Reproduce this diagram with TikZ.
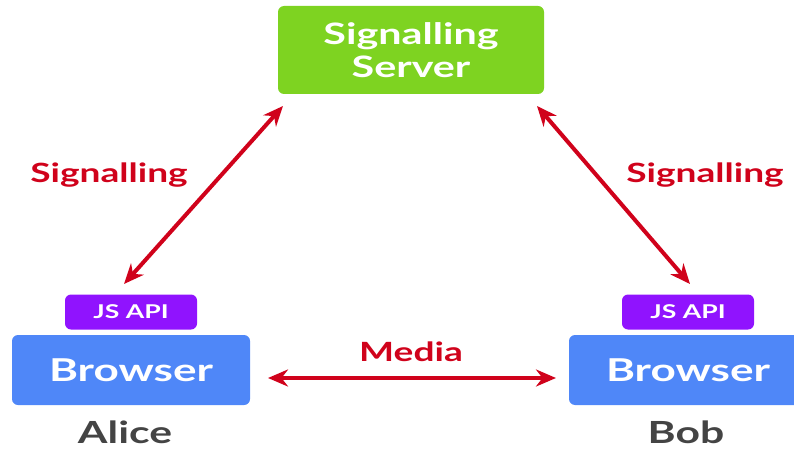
\documentclass[tikz,border=0pt]{standalone}
\usepackage{fontspec}
\setmainfont{Lato}[FakeStretch=1.4]
\usetikzlibrary{arrows.meta}
\definecolor{srvgreen}{HTML}{7ED321}
\definecolor{apipurple}{HTML}{9013FE}
\definecolor{brblue}{HTML}{4F87F8}
\definecolor{sigred}{HTML}{D0021B}
\definecolor{namegray}{HTML}{444444}
\tikzset{
  box/.style={rounded corners=6pt, inner sep=0pt, text=white, font=\bfseries},
  server/.style={box, fill=srvgreen, minimum width=266pt, minimum height=88pt, align=center, font=\bfseries\fontsize{29.5}{35}\selectfont},
  api/.style={box, fill=apipurple, minimum width=132pt, minimum height=35pt, font=\bfseries\fontsize{19}{22}\selectfont},
  browser/.style={box, fill=brblue, minimum width=238pt, minimum height=70pt, font=\bfseries\fontsize{31.5}{35}\selectfont},
  person/.style={text=namegray, inner sep=1pt, font=\bfseries\fontsize{30.5}{34}\selectfont},
  siglabel/.style={text=sigred, font=\bfseries\fontsize{26.5}{30}\selectfont},
  link/.style={draw=sigred, line width=4pt, {Stealth[length=20pt,width=17pt]}-{Stealth[length=20pt,width=17pt]}}
}
\begin{document}
\begin{tikzpicture}[x=1pt,y=1pt]
\useasboundingbox (0,0) rectangle (794,-449);
\node[server] (srv) at (411,-50) {Signalling\\[-2pt]Server};
\node[api] (apiA) at (131,-312) {JS API};
\node[browser] (brA) at (131,-370) {Browser};
\node[person] (alice) at (125,-432) {Alice};
\node[api] (apiB) at (688,-312) {JS API};
\node[browser] (brB) at (688,-370) {Browser};
\node[person] (bob) at (686,-432) {Bob};
\coordinate (s1) at (283,-106);
\coordinate (a1) at (124,-284);
\coordinate (s2) at (537,-106);
\coordinate (b1) at (690,-284);
\coordinate (m1) at (268,-378);
\coordinate (m2) at (556,-378);
\draw[link] (a1) -- (s1);
\draw[link] (b1) -- (s2);
\draw[link] (m1) -- (m2);
\node[siglabel] (l1) at (109,-175) {Signalling};
\node[siglabel] (l2) at (705,-175) {Signalling};
\node[siglabel] (l3) at (411,-352) {Media};
\end{tikzpicture}
\end{document}
